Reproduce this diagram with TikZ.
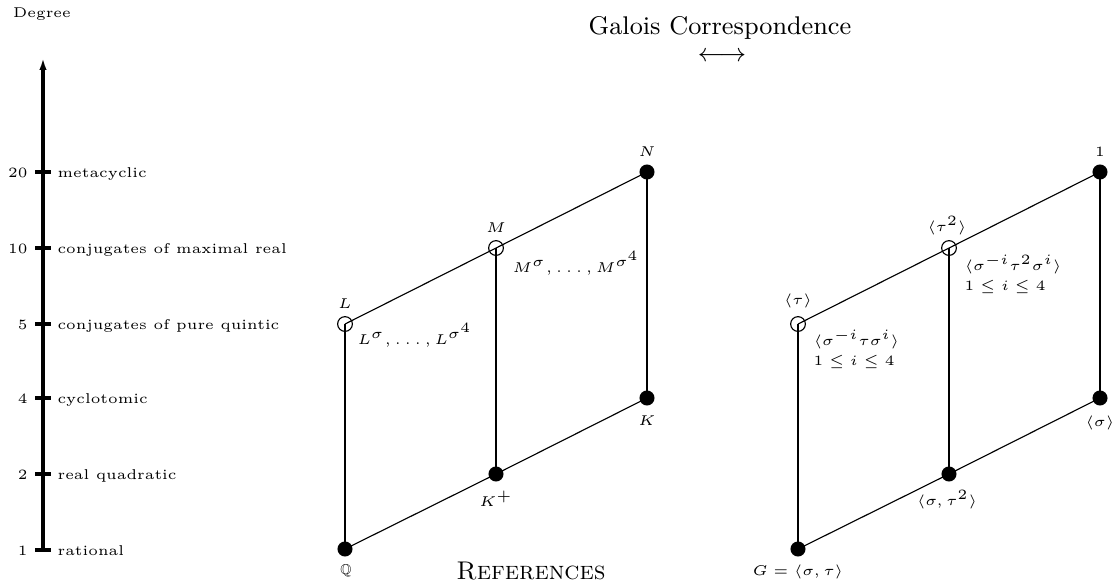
\documentclass[tikz,border=0pt]{standalone}
\usepackage{amssymb}
\usetikzlibrary{arrows.meta}
\begin{document}
\begin{tikzpicture}[x=0.3521pt,y=-0.3521pt,
  dot/.style={circle,fill=black,draw=none,inner sep=0pt,minimum size=5.3pt},
  odot/.style={circle,draw=black,line width=0.4pt,fill=none,inner sep=0pt,minimum size=5.2pt},
  lbl/.style={font=\tiny,inner sep=0pt},
  mlbl/.style={font=\fontsize{5}{7}\selectfont,inner sep=0pt,align=left},
  vline/.style={line width=0.95pt},
  sline/.style={line width=0.4pt},
  axisline/.style={line width=1.15pt}]
\useasboundingbox (0,0) rectangle (1117,585);

% titles
\node[lbl] (deg) at (42,14) {Degree};
\node[font=\small,inner sep=0pt] (title) at (720,28) {Galois Correspondence};
\node[font=\small,inner sep=0pt] (arr) at (722,57) {$\longleftrightarrow$};
\node[font=\small\scshape,inner sep=0pt] (ref) at (531,571) {References};

% degree axis
\coordinate (ax0) at (43,550);
\coordinate (ax1) at (43,58);
\draw[axisline,-{Latex[length=4.2pt,width=2.6pt]}] (ax0) -- (ax1);
\foreach \y/\n/\t in {172/20/metacyclic,248/10/conjugates of maximal real,324/5/conjugates of pure quintic,398/4/cyclotomic,474/2/real quadratic,550/1/rational}{
  \coordinate (t\n) at (43,\y);
  \draw[axisline] ([xshift=-2.8pt]t\n) -- ([xshift=2.8pt]t\n);
  \node[lbl,anchor=base east] (n\n) at (28,\y+5) {\n};
  \node[lbl,anchor=base west] (d\n) at (57,\y+5) {\t};
}

% field lattice
\node[dot] (Q) at (345,549) {};
\node[dot] (Kp) at (496,474) {};
\node[dot] (K) at (647,398) {};
\node[odot] (L) at (345,324) {};
\node[odot] (M) at (496,248) {};
\node[dot] (N) at (647,172) {};
\draw[vline] (Q.center) -- (L.center);
\draw[vline] (Kp.center) -- (M.center);
\draw[vline] (K.center) -- (N.center);
\draw[sline] (Q.center) -- (Kp.center) -- (K.center);
\draw[sline] (L.center) -- (M.center) -- (N.center);

\node[lbl] (lN) at (647,152) {$N$};
\node[lbl] (lM) at (496,228) {$M$};
\node[lbl] (lL) at (345,304) {$L$};
\node[lbl] (lQ) at (346,571) {$\mathbb{Q}$};
\node[lbl] (lKp) at (496,499) {$K^+$};
\node[lbl] (lK) at (647,421) {$K$};
\node[lbl,anchor=base west] (lLc) at (357,344) {$L^\sigma,\dots,L^{\sigma^4}$};
\node[lbl,anchor=base west] (lMc) at (512,272) {$M^\sigma,\dots,M^{\sigma^4}$};

% group lattice
\node[dot] (G) at (798,549) {};
\node[dot] (St) at (949,474) {};
\node[dot] (S) at (1100,398) {};
\node[odot] (T) at (798,324) {};
\node[odot] (T2) at (949,248) {};
\node[dot] (One) at (1100,172) {};
\draw[vline] (G.center) -- (T.center);
\draw[vline] (St.center) -- (T2.center);
\draw[vline] (S.center) -- (One.center);
\draw[sline] (G.center) -- (St.center) -- (S.center);
\draw[sline] (T.center) -- (T2.center) -- (One.center);

\node[lbl] (lOne) at (1100,152) {$1$};
\node[lbl] (lT2) at (947,226) {$\langle\tau^2\rangle$};
\node[lbl] (lT) at (798,301) {$\langle\tau\rangle$};
\node[lbl] (lG) at (798,572) {$G=\langle\sigma,\tau\rangle$};
\node[lbl] (lSt) at (947,500) {$\langle\sigma,\tau^2\rangle$};
\node[lbl] (lS) at (1100,423) {$\langle\sigma\rangle$};
\node[mlbl,anchor=base west] (lTc) at (813,365) {$\langle\sigma^{-i}\tau\sigma^i\rangle$\\$1\le i\le 4$};
\node[mlbl,anchor=base west] (lT2c) at (964,290) {$\langle\sigma^{-i}\tau^2\sigma^i\rangle$\\$1\le i\le 4$};
\end{tikzpicture}
\end{document}
